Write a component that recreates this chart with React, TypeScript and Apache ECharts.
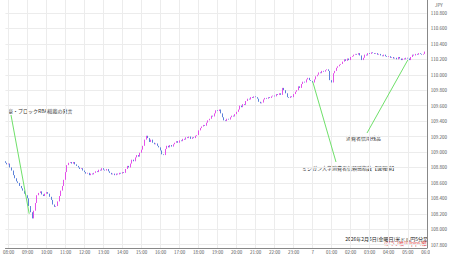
import { useEffect, useRef } from "react";
import * as echarts from "echarts";

// 5-minute closes, grouped by hour (JST), starting 07:50
const closes0750 = [108.86, 108.84];
const closes08 = [108.85, 108.8, 108.76, 108.7, 108.66, 108.62, 108.6, 108.56, 108.53, 108.5, 108.46, 108.44];
const closes09 = [108.4, 108.3, 108.22, 108.14, 108.24, 108.34, 108.44, 108.47, 108.49, 108.45, 108.43, 108.46];
const closes10 = [108.48, 108.46, 108.42, 108.38, 108.32, 108.29, 108.3, 108.36, 108.43, 108.5, 108.56, 108.64];
const closes11 = [108.74, 108.83, 108.86, 108.87, 108.85, 108.87, 108.84, 108.82, 108.8, 108.78, 108.79, 108.76];
const closes12 = [108.74, 108.72, 108.73, 108.7, 108.72, 108.71, 108.73, 108.75, 108.74, 108.77, 108.76, 108.79];
const closes13 = [108.77, 108.76, 108.78, 108.75, 108.73, 108.71, 108.72, 108.7, 108.72, 108.71, 108.73, 108.72];
const closes14 = [108.74, 108.73, 108.78, 108.82, 108.8, 108.85, 108.9, 108.88, 108.93, 108.96, 108.94, 108.99];
const closes15 = [109.03, 109.08, 109.16, 109.21, 109.18, 109.13, 109.16, 109.12, 109.1, 109.11, 109.08, 109.06];
const closes16 = [109.02, 108.97, 108.96, 109.04, 109.08, 109.06, 109.09, 109.07, 109.1, 109.12, 109.14, 109.12];
const closes17 = [109.15, 109.14, 109.17, 109.16, 109.19, 109.18, 109.2, 109.17, 109.19, 109.18, 109.21, 109.22];
const closes18 = [109.28, 109.31, 109.33, 109.35, 109.34, 109.38, 109.41, 109.43, 109.47, 109.46, 109.5, 109.54];
const closes19 = [109.53, 109.55, 109.5, 109.45, 109.41, 109.4, 109.43, 109.42, 109.45, 109.47, 109.46, 109.49];
const closes20 = [109.52, 109.55, 109.6, 109.58, 109.62, 109.61, 109.66, 109.69, 109.68, 109.71, 109.7, 109.72];
const closes21 = [109.71, 109.69, 109.65, 109.63, 109.64, 109.68, 109.7, 109.69, 109.71, 109.7, 109.72, 109.73];
const closes22 = [109.72, 109.75, 109.74, 109.76, 109.74, 109.83, 109.8, 109.76, 109.71, 109.7, 109.72, 109.71];
const closes23 = [109.75, 109.78, 109.8, 109.85, 109.83, 109.88, 109.91, 109.9, 109.94, 109.96, 109.93, 109.92];
const closes00 = [109.9, 109.94, 109.98, 110.0, 110.03, 110.02, 110.05, 110.04, 110.06, 110.07, 110.05, 109.93];
const closes01 = [109.9, 110.02, 110.05, 110.09, 110.11, 110.13, 110.14, 110.17, 110.2, 110.18, 110.21, 110.19];
const closes02 = [110.23, 110.24, 110.26, 110.27, 110.26, 110.28, 110.25, 110.19, 110.22, 110.26, 110.25, 110.28];
const closes03 = [110.27, 110.29, 110.28, 110.27, 110.28, 110.26, 110.27, 110.25, 110.24, 110.26, 110.24, 110.23];
const closes04 = [110.24, 110.22, 110.23, 110.21, 110.22, 110.2, 110.23, 110.21, 110.19, 110.21, 110.2, 110.22];
const closes05 = [110.21, 110.19, 110.23, 110.26, 110.25, 110.27, 110.26, 110.28, 110.27, 110.26, 110.27, 110.3];
const firstOpen = 108.88;

const closes = [
  ...closes0750, ...closes08, ...closes09, ...closes10, ...closes11, ...closes12, ...closes13,
  ...closes14, ...closes15, ...closes16, ...closes17, ...closes18, ...closes19, ...closes20,
  ...closes21, ...closes22, ...closes23, ...closes00, ...closes01, ...closes02, ...closes03,
  ...closes04, ...closes05,
];

const yTicks = [107.8, 108.0, 108.2, 108.4, 108.6, 108.8, 109.0, 109.2, 109.4, 109.6, 109.8, 110.0, 110.2, 110.4, 110.6, 110.8];
const yMin = 107.757;
const yMax = 110.968;

// annotations: label, time, price
const annRBA = { text: "豪・ブロックRBA総裁の発言", time: "09:05", price: 108.2 };
const annMichigan = { text: "ミシガン大学消費者信頼感指数【速報値】", time: "00:00", price: 109.91 };
const annCredit = { text: "消費者信用残高", time: "05:00", price: 110.19 };

const titleText = "2026年2月6日(金曜日)米ドル円5分足";
const noteText = "(グラフ幅100pips/縦)";

const pad = (n: number) => (n < 10 ? "0" + n : "" + n);
const categories: string[] = [];
for (let m = 7 * 60 + 50; m <= 30 * 60; m += 5) {
  categories.push(pad(Math.floor(m / 60) % 24) + ":" + pad(m % 60));
}

const candles = closes.map((c, i) => {
  const o = i === 0 ? firstOpen : closes[i - 1];
  return [o, c, Math.min(o, c), Math.max(o, c)];
});

export default function App() {
  const ref = useRef<HTMLDivElement>(null);
  useEffect(() => {
    document.body.style.margin = "0";
    if (!ref.current) return;
    const chart = echarts.init(ref.current, undefined, { renderer: "svg" });
    const isHour = (_i: number, v: string) => v.endsWith(":00");
    const annLine = (a: any, px: number, py: number) => [
      { x: px, y: py },
      { coord: [a.time, a.price] },
    ];
    chart.setOption({
      animation: false,
      backgroundColor: "#ffffff",
      grid: { left: 0, right: 21, top: 0, bottom: 10, containLabel: false },
      xAxis: {
        type: "category",
        data: categories,
        boundaryGap: false,
        axisLine: { show: true, lineStyle: { color: "#888", width: 1 } },
        axisTick: { show: false },
        axisLabel: {
          interval: isHour,
          formatter: (v: string) => (v === "00:00" ? "7" : v),
          fontSize: 4.5,
          color: "#555",
          margin: 2,
          fontFamily: "Noto Sans CJK JP",
        },
        splitLine: { show: true, interval: isHour, lineStyle: { color: "#ececec", width: 1 } },
      },
      yAxis: {
        type: "value",
        position: "right",
        min: yMin,
        max: yMax,
        scale: true,
        axisLine: { show: true, lineStyle: { color: "#888", width: 1 } },
        axisTick: { show: false, customValues: yTicks },
        axisLabel: {
          customValues: yTicks,
          formatter: (v: number) => v.toFixed(3),
          fontSize: 4.5,
          color: "#555",
          margin: 4,
          fontFamily: "Noto Sans CJK JP",
        },
        splitLine: { show: true, lineStyle: { color: "#ececec", width: 1 } },
      },
      series: [
        {
          type: "candlestick",
          data: candles,
          barWidth: 1.2,
          itemStyle: {
            color: "#e23ee6",
            color0: "#4a74d6",
            borderColor: "#e23ee6",
            borderColor0: "#4a74d6",
            borderWidth: 0.9,
          },
          markLine: {
            silent: true,
            symbol: ["none", "none"],
            label: { show: false },
            lineStyle: { color: "#6fe06a", width: 1, type: "solid" },
            data: [
              annLine(annRBA, 11, 115),
              annLine(annMichigan, 336, 162),
              annLine(annCredit, 367, 133),
            ],
          },
        },
      ],
      graphic: [
        { type: "text", x: 435, y: 3, style: { text: "JPY", fontSize: 4.5, fill: "#555", fontFamily: "Noto Sans CJK JP" } },
        { type: "text", x: 8, y: 107.5, style: { text: annRBA.text, fontSize: 5, fill: "#333", fontFamily: "Noto Sans CJK JP" } },
        { type: "text", x: 346, y: 135, style: { text: annCredit.text, fontSize: 5, fill: "#333", fontFamily: "Noto Sans CJK JP" } },
        { type: "text", x: 302, y: 164.5, style: { text: annMichigan.text, fontSize: 5, fill: "#333", fontFamily: "Noto Sans CJK JP" } },
        { type: "text", x: 428, y: 235.5, style: { text: titleText, fontSize: 5, fill: "#222", align: "right", fontFamily: "Noto Sans CJK JP" } },
        { type: "text", x: 428, y: 241, style: { text: noteText, fontSize: 4.5, fill: "#e03030", align: "right", fontFamily: "Noto Sans CJK JP" } },
        { type: "rect", shape: { x: 430, y: 249, width: 20, height: 9 }, style: { fill: "#fff" }, z: 100 },
      ],
    });
    return () => chart.dispose();
  }, []);
  return <div ref={ref} style={{ width: 450, height: 258 }} />;
}
